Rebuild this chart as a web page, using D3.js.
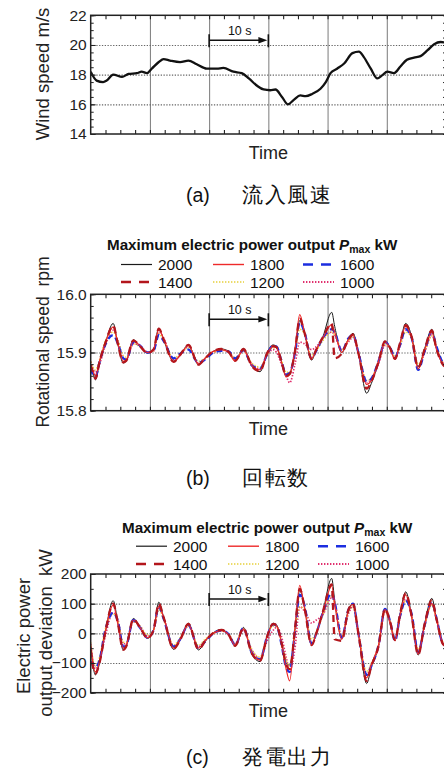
<!DOCTYPE html>
<html>
<head>
<meta charset="utf-8">
<script src="https://cdn.jsdelivr.net/npm/d3@7"></script>
<style>
  body { margin: 0; background: #fff; }
  svg { display: block; }
  svg text { font-family: "Liberation Sans", Arial, sans-serif; white-space: pre; }
</style>
</head>
<body>
<svg id="chart" width="444" height="769"></svg>
<script>
// ---- data ----
const windTime = [0, 1.0, 2.1, 2.7, 3.8, 5.3, 6.4, 7.8, 8.6, 9.5,
  10.3, 11.5, 12.3, 13.4, 15.1, 16.5, 17.9, 19.6, 21.3, 22.4,
  24.1, 25.5, 26.7, 28.1, 29.2, 30.3, 31.2, 32.3, 33.3, 34.3,
  35.4, 36.3, 37.4, 38.8, 39.7, 40.5, 41.6, 42.8, 44.2, 45.3,
  46.1, 47.3, 48.4, 49.2, 50.1, 51.2, 52.3, 53.4, 54.6, 55.7,
  56.9, 58.0, 59.1, 60];
const windSpeed = [18.2, 17.6, 17.5, 17.6, 18.0, 17.85, 18.05, 18.1, 18.2, 18.1,
  18.4, 18.85, 19.05, 18.95, 18.85, 18.95, 18.7, 18.4, 18.4, 18.45,
  18.2, 18.1, 17.75, 17.25, 17.0, 16.95, 17.0, 16.5, 16.0, 16.3,
  16.6, 16.55, 16.7, 17.05, 17.5, 18.1, 18.4, 18.75, 19.45, 19.55,
  19.2, 18.4, 17.75, 17.95, 18.2, 18.1, 18.55, 19.0, 19.15, 19.25,
  19.65, 20.05, 20.2, 20.15];

// time base shared by panels (b) and (c), seconds
const timeS = [0, 0.4, 0.8, 1.5, 2.4, 3.8, 4.6, 5.5, 6.0, 7.2,
  8.3, 9.6, 10.6, 11.5, 12.3, 14.0, 15.1, 16.5, 18.2, 19.3,
  20.7, 22.1, 23.3, 24.4, 25.8, 27.2, 28.6, 29.8, 30.8, 31.4,
  32.2, 33.0, 33.6, 34.5, 35.3, 36.1, 37.3, 38.1, 39.2, 40.7,
  41.2, 42.4, 43.5, 44.3, 45.2, 46.6, 47.4, 48.6, 49.7, 50.5,
  51.4, 52.2, 53.2, 54.2, 55.3, 56.4, 57.6, 58.4, 59.5, 60];

const seriesNames = ["2000", "1800", "1600", "1400", "1200", "1000"];

// rotational speed, rpm
const rpm2000 = [15.876, 15.865, 15.853, 15.882, 15.913, 15.950, 15.913, 15.882, 15.885, 15.922,
  15.910, 15.899, 15.905, 15.942, 15.922, 15.885, 15.896, 15.913, 15.879, 15.890,
  15.902, 15.906, 15.902, 15.887, 15.907, 15.877, 15.867, 15.900, 15.913, 15.910,
  15.885, 15.860, 15.864, 15.900, 15.955, 15.933, 15.887, 15.905, 15.927, 15.969,
  15.945, 15.900, 15.923, 15.933, 15.899, 15.830, 15.847, 15.882, 15.919, 15.910,
  15.890, 15.915, 15.950, 15.928, 15.876, 15.907, 15.940, 15.907, 15.879, 15.875];
const rpm1800 = [15.880, 15.868, 15.860, 15.886, 15.915, 15.944, 15.915, 15.885, 15.887, 15.920,
  15.912, 15.900, 15.905, 15.940, 15.924, 15.884, 15.895, 15.912, 15.880, 15.890,
  15.902, 15.905, 15.900, 15.885, 15.905, 15.878, 15.870, 15.898, 15.910, 15.908,
  15.884, 15.858, 15.862, 15.905, 15.965, 15.935, 15.890, 15.905, 15.925, 15.948,
  15.935, 15.900, 15.922, 15.930, 15.898, 15.845, 15.852, 15.885, 15.918, 15.908,
  15.888, 15.915, 15.945, 15.925, 15.872, 15.905, 15.935, 15.905, 15.880, 15.876];
const rpm1600 = [15.872, 15.862, 15.858, 15.884, 15.912, 15.930, 15.915, 15.890, 15.888, 15.918,
  15.912, 15.900, 15.903, 15.930, 15.920, 15.890, 15.898, 15.905, 15.882, 15.888,
  15.900, 15.903, 15.902, 15.890, 15.904, 15.878, 15.872, 15.897, 15.912, 15.910,
  15.886, 15.862, 15.865, 15.900, 15.952, 15.935, 15.890, 15.903, 15.925, 15.940,
  15.935, 15.902, 15.924, 15.930, 15.900, 15.850, 15.855, 15.885, 15.918, 15.910,
  15.892, 15.912, 15.940, 15.925, 15.870, 15.903, 15.935, 15.910, 15.882, 15.878];
const rpm1400 = [15.878, 15.866, 15.855, 15.884, 15.914, 15.946, 15.914, 15.883, 15.886, 15.921,
  15.911, 15.899, 15.905, 15.941, 15.923, 15.884, 15.896, 15.913, 15.879, 15.890,
  15.902, 15.906, 15.901, 15.886, 15.906, 15.877, 15.868, 15.899, 15.911, 15.909,
  15.885, 15.860, 15.863, 15.902, 15.958, 15.934, 15.889, 15.905, 15.926, 15.950,
  15.890, 15.898, 15.922, 15.931, 15.899, 15.838, 15.850, 15.884, 15.919, 15.909,
  15.889, 15.915, 15.947, 15.927, 15.874, 15.906, 15.938, 15.906, 15.879, 15.875];
const rpm1200 = [15.885, 15.875, 15.870, 15.888, 15.918, 15.935, 15.920, 15.895, 15.892, 15.915,
  15.910, 15.900, 15.903, 15.932, 15.922, 15.890, 15.897, 15.908, 15.885, 15.890,
  15.900, 15.904, 15.901, 15.890, 15.903, 15.882, 15.875, 15.896, 15.908, 15.907,
  15.888, 15.866, 15.866, 15.898, 15.940, 15.932, 15.895, 15.903, 15.920, 15.935,
  15.930, 15.905, 15.920, 15.927, 15.902, 15.852, 15.856, 15.884, 15.914, 15.908,
  15.893, 15.912, 15.935, 15.925, 15.880, 15.902, 15.928, 15.908, 15.884, 15.880];
const rpm1000 = [15.884, 15.872, 15.866, 15.880, 15.910, 15.938, 15.920, 15.890, 15.888, 15.915,
  15.912, 15.900, 15.902, 15.935, 15.925, 15.888, 15.895, 15.910, 15.882, 15.889,
  15.900, 15.904, 15.902, 15.888, 15.903, 15.880, 15.872, 15.895, 15.905, 15.900,
  15.880, 15.860, 15.848, 15.880, 15.918, 15.915, 15.905, 15.910, 15.925, 15.935,
  15.930, 15.905, 15.918, 15.926, 15.900, 15.848, 15.855, 15.880, 15.912, 15.908,
  15.890, 15.910, 15.938, 15.925, 15.875, 15.900, 15.930, 15.908, 15.882, 15.878];

// electric power output deviation, kW
const kw2000 = [-50, -112, -140, -100, -5, 110, 34, -56, -45, 50,
  22, -17, 11, 105, 56, -54, -22, 34, -56, -28,
  2, 13, -5, -43, 20, -70, -95, -11, 34, 28,
  -28, -100, -107, 11, 146, 90, -39, 0, 73, 185,
  112, -17, 79, 101, 0, -169, -112, -45, 84, 45,
  -22, 62, 140, 60, -73, 34, 118, 50, -39, -45];
const kw1800 = [-40, -105, -130, -95, 0, 95, 30, -50, -40, 45,
  20, -15, 10, 92, 55, -50, -20, 30, -50, -25,
  0, 10, -5, -40, 15, -65, -90, -10, 30, 25,
  -30, -120, -160, 20, 162, 85, -40, 0, 70, 160,
  100, -20, 75, 98, 0, -150, -105, -40, 80, 40,
  -25, 58, 130, 55, -70, 30, 100, 45, -35, -40];
const kw1600 = [-60, -110, -115, -90, 5, 70, 40, -45, -40, 45,
  20, -15, 10, 90, 50, -45, -20, 28, -50, -28,
  0, 10, -3, -40, 18, -65, -88, -10, 30, 25,
  -35, -115, -130, 10, 130, 95, -35, 0, 70, 135,
  105, -15, 78, 100, 0, -140, -110, -40, 82, 45,
  -25, 55, 110, 65, -65, 28, 105, 50, -35, -40];
const kw1400 = [-55, -115, -135, -98, -3, 100, 32, -55, -44, 48,
  21, -16, 10, 100, 55, -52, -22, 32, -54, -27,
  1, 12, -5, -42, 18, -68, -92, -10, 32, 27,
  -30, -105, -120, 14, 150, 88, -40, 0, 72, 165,
  -20, -25, 78, 100, 0, -160, -110, -43, 83, 44,
  -23, 60, 135, 58, -72, 32, 112, 48, -37, -43];
const kw1200 = [-30, -90, -110, -80, 10, 65, 40, -30, -30, 40,
  25, -5, 10, 80, 50, -40, -15, 25, -40, -20,
  0, 8, -3, -35, 15, -55, -80, -10, 25, 22,
  -25, -90, -110, 5, 90, 80, -20, 5, 60, 130,
  100, -10, 70, 90, 5, -130, -100, -40, 75, 40,
  -20, 50, 110, 60, -55, 25, 95, 45, -30, -35];
const kw1000 = [-35, -95, -120, -95, -15, 70, 45, -35, -35, 40,
  25, -10, 8, 85, 55, -45, -20, 25, -45, -25,
  0, 8, -3, -35, 10, -55, -85, -25, 10, 20,
  -10, -80, -125, -50, 90, 75, 35, 45, 62, 120,
  105, -10, 65, 90, 5, -140, -105, -45, 75, 40,
  -20, 50, 115, 60, -60, 25, 100, 48, -30, -35];

const windTicks = [14, 16, 18, 20, 22];
const rpmTicks = [15.8, 15.9, 16.0];
const kwTicks = [-200, -100, 0, 100, 200];

// ---- styles ----
const lineStyles = {
  "2000": { color: "#1a1a1a", width: 1.0, dash: null },
  "1800": { color: "#ee2a2a", width: 1.2, dash: null },
  "1600": { color: "#1c2ee0", width: 2.3, dash: "6,4" },
  "1400": { color: "#b3161c", width: 2.3, dash: "7,5" },
  "1200": { color: "#e6cf3a", width: 1.4, dash: "1.4,1.6" },
  "1000": { color: "#e0306e", width: 1.7, dash: "1.4,1.6" }
};

const svg = d3.select("#chart");
const left = 90.7, right = 446;
const x = d3.scaleLinear().domain([0, 60]).range([left, right]);

function drawPanel(p) {
  const y = d3.scaleLinear().domain(p.domain).range([p.bottom, p.top]);
  const g = svg.append("g");
  const h = p.bottom - p.top;

  // vertical grid every 10 s
  g.append("g")
    .attr("transform", `translate(0,${p.bottom})`)
    .call(d3.axisBottom(x).tickValues([10, 20, 30, 40, 50]).tickSize(-h).tickFormat(""))
    .call(a => a.select(".domain").remove())
    .selectAll("line").attr("stroke", "#7a7a7a").attr("stroke-width", 1);

  // horizontal dotted grid
  g.append("g")
    .attr("transform", `translate(${left},0)`)
    .call(d3.axisLeft(y).tickValues(p.grid).tickSize(-(right - left)).tickFormat(""))
    .call(a => a.select(".domain").remove())
    .selectAll("line").attr("stroke", "#666").attr("stroke-width", 1.1)
    .attr("stroke-dasharray", "1.3,1.5");

  // clip
  const clipId = "clip" + p.id;
  svg.append("clipPath").attr("id", clipId)
    .append("rect").attr("x", left).attr("y", p.top).attr("width", right - left).attr("height", h);

  const line = (vals, times) => d3.line()
    .x((d, i) => x(times[i]))
    .y(d => y(d))
    .curve(d3.curveMonotoneX)(vals);

  const plot = g.append("g").attr("clip-path", `url(#${clipId})`);
  p.series.forEach(s => {
    plot.append("path")
      .attr("d", line(s.values, s.times))
      .attr("fill", "none")
      .attr("stroke", s.style.color)
      .attr("stroke-width", s.style.width)
      .attr("stroke-dasharray", s.style.dash)
      .attr("stroke-linejoin", "round");
  });

  // minor ticks top / bottom (every 2.5 s), inward
  const tMinor = d3.range(2.5, 60, 2.5);
  g.append("g").attr("transform", `translate(0,${p.bottom})`)
    .call(d3.axisBottom(x).tickValues(tMinor).tickSize(-4).tickFormat(""))
    .call(a => a.select(".domain").remove())
    .selectAll("line").attr("stroke", "#222").attr("stroke-width", 1.1);
  g.append("g").attr("transform", `translate(0,${p.top})`)
    .call(d3.axisTop(x).tickValues(tMinor).tickSize(-4).tickFormat(""))
    .call(a => a.select(".domain").remove())
    .selectAll("line").attr("stroke", "#222").attr("stroke-width", 1.1);

  // left / right minor ticks
  const yMinor = d3.range(p.domain[0], p.domain[1] + 1e-9, p.minor);
  [[d3.axisLeft, left], [d3.axisRight, right]].forEach(([ax, pos]) => {
    g.append("g").attr("transform", `translate(${pos},0)`)
      .call(ax(y).tickValues(yMinor).tickSize(-3).tickFormat(""))
      .call(a => a.select(".domain").remove())
      .selectAll("line").attr("stroke", "#222").attr("stroke-width", 1);
  });

  // left axis labels + major ticks
  const yAxis = g.append("g").attr("transform", `translate(${left},0)`)
    .call(d3.axisLeft(y).tickValues(p.ticks).tickSize(-5).tickPadding(4).tickFormat(p.format));
  yAxis.select(".domain").remove();
  yAxis.selectAll("line").attr("stroke", "#222");
  yAxis.selectAll("text").attr("font-size", 15.5).attr("fill", "#222")
    .attr("font-family", "'Liberation Sans', Arial, sans-serif");

  // frame
  g.append("rect").attr("x", left).attr("y", p.top)
    .attr("width", right - left).attr("height", h)
    .attr("fill", "none").attr("stroke", "#222").attr("stroke-width", 1.5);

  // 10 s marker
  const ay = p.top + 25;
  const mk = g.append("g").attr("stroke", "#111").attr("stroke-width", 1.6);
  mk.append("line").attr("x1", x(20)).attr("x2", x(30) - 6).attr("y1", ay).attr("y2", ay);
  mk.append("line").attr("x1", x(20)).attr("x2", x(20)).attr("y1", ay - 6).attr("y2", ay + 7);
  mk.append("line").attr("x1", x(30)).attr("x2", x(30)).attr("y1", ay - 6).attr("y2", ay + 7);
  g.append("path")
    .attr("d", `M${x(30) - 1},${ay} L${x(30) - 10},${ay - 3.2} L${x(30) - 10},${ay + 3.2} Z`)
    .attr("fill", "#111");
  g.append("text").attr("x", x(25) + 1).attr("y", ay - 5)
    .attr("text-anchor", "middle").attr("font-size", 12.5).attr("fill", "#111")
    .text("10 s");

  // x title
  g.append("text").attr("x", x(30)).attr("y", p.bottom + 24.5)
    .attr("text-anchor", "middle").attr("font-size", 18).attr("fill", "#222")
    .text("Time");

  // y title
  p.ylabel.forEach(l => {
    g.append("text")
      .attr("transform", `translate(${l.x},${l.y}) rotate(-90)`)
      .attr("text-anchor", "middle").attr("font-size", l.size || 18.5).attr("fill", "#222")
      .text(l.text);
  });

  // caption
  svg.append("text").attr("x", 186).attr("y", p.capY)
    .attr("font-family", "'Noto Sans CJK JP', sans-serif").attr("font-size", 19.5).attr("fill", "#111")
    .text(p.capTag);
  svg.append("text").attr("x", 242).attr("y", p.capY)
    .attr("font-family", "'Noto Sans CJK JP', sans-serif").attr("font-size", 21).attr("fill", "#111")
    .attr("letter-spacing", 1.5)
    .text(p.capText);
}

function drawLegend(x0, titleY, rowY) {
  const g = svg.append("g");
  const t = g.append("text").attr("x", x0).attr("y", titleY)
    .attr("font-size", 15.2).attr("font-weight", "bold").attr("fill", "#111");
  t.append("tspan").text("Maximum electric power output ");
  t.append("tspan").attr("font-style", "italic").text("P");
  t.append("tspan").attr("font-size", 10.5).attr("dy", 3).text("max");
  t.append("tspan").attr("dy", -3).text(" kW");

  const colX = [x0 + 14, x0 + 106, x0 + 196];
  seriesNames.forEach((name, i) => {
    const cx = colX[i % 3];
    const cy = rowY[Math.floor(i / 3)];
    const st = lineStyles[name];
    g.append("line").attr("x1", cx).attr("x2", cx + 31)
      .attr("y1", cy - 5.5).attr("y2", cy - 5.5)
      .attr("stroke", st.color).attr("stroke-width", st.width + 0.2)
      .attr("stroke-dasharray", st.dash ? (st.width > 2 ? "10,8" : st.dash) : null);
    g.append("text").attr("x", cx + 37).attr("y", cy)
      .attr("font-size", 15.5).attr("fill", "#111").text(name);
  });
}

const orderB = [["2000", rpm2000], ["1000", rpm1000], ["1200", rpm1200], ["1600", rpm1600], ["1800", rpm1800], ["1400", rpm1400]];
const orderC = [["2000", kw2000], ["1000", kw1000], ["1200", kw1200], ["1600", kw1600], ["1800", kw1800], ["1400", kw1400]];

drawPanel({
  id: "a", top: 15.3, bottom: 134, domain: [14, 22], ticks: windTicks, grid: [16, 18, 20],
  minor: 0.5, format: d3.format("d"),
  series: [{ values: windSpeed, times: windTime, style: { color: "#111", width: 2.3, dash: null } }],
  ylabel: [{ x: 49, y: 74, text: "Wind speed m/s" }],
  capY: 202, capTag: "(a)", capText: "流入風速"
});

drawLegend(107, 250, [270, 287.5]);
drawPanel({
  id: "b", top: 294.3, bottom: 410.7, domain: [15.8, 16.0], ticks: rpmTicks, grid: [15.9],
  minor: 0.02, format: d3.format(".1f"),
  series: orderB.map(([n, v]) => ({ values: v, times: timeS, style: lineStyles[n] })),
  ylabel: [{ x: 49, y: 342, text: "Rotational speed  rpm", size: 17.5 }],
  capY: 485, capTag: "(b)", capText: "回転数"
});

drawLegend(122, 532.5, [551.7, 569.5]);
drawPanel({
  id: "c", top: 574, bottom: 692.7, domain: [-200, 200], ticks: kwTicks, grid: [-100, 0, 100],
  minor: 50, format: d3.format("d"),
  series: orderC.map(([n, v]) => ({ values: v, times: timeS, style: lineStyles[n] })),
  ylabel: [{ x: 30, y: 636, text: "Electric power" }, { x: 52, y: 633, text: "output deviation  kW" }],
  capY: 764, capTag: "(c)", capText: "発電出力"
});
</script>
</body>
</html>
